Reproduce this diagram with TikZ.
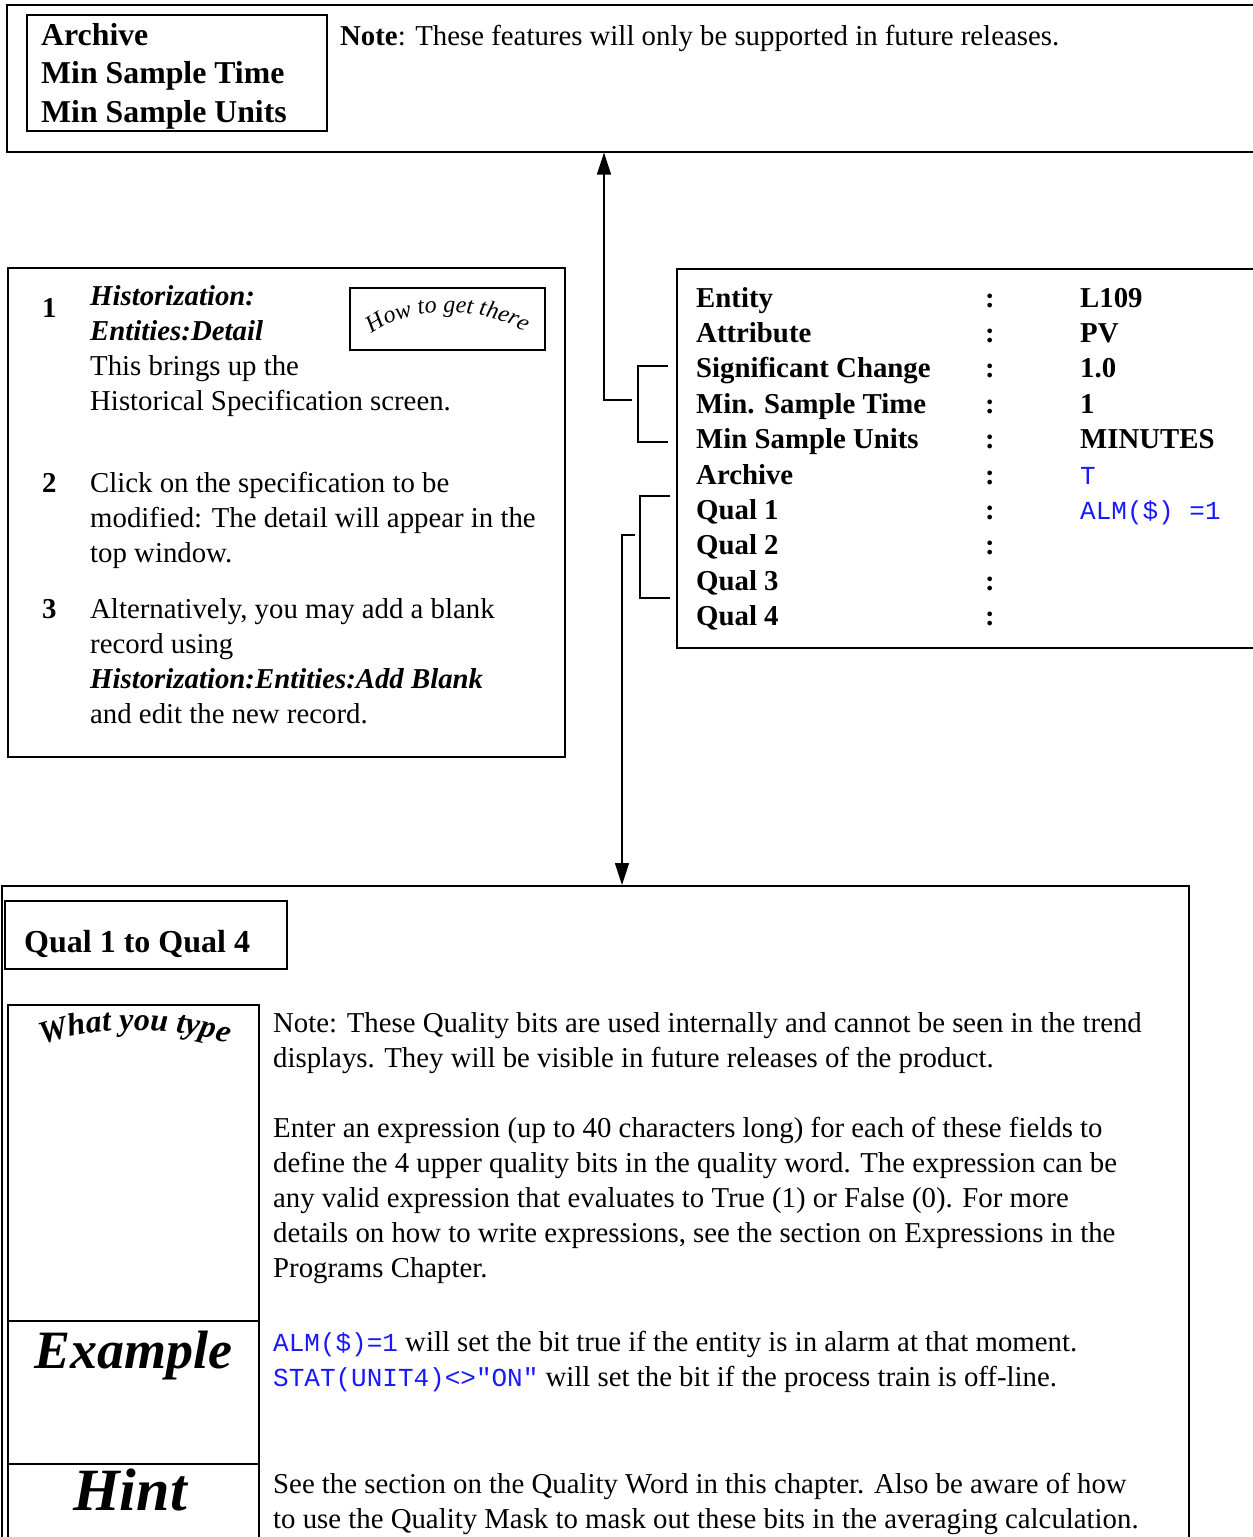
\documentclass[tikz,border=0pt]{standalone}
\usepackage{fontspec}
\setmainfont{Liberation Serif}
\setmonofont{Liberation Mono}
\usetikzlibrary{arrows.meta,decorations.text}
\definecolor{codeblue}{RGB}{25,25,255}

% multi-line nodes are anchored at the baseline of their last line
\tikzset{
  box/.style={draw=black, line width=1.6pt, inner sep=0pt, anchor=north west},
  txt/.style={anchor=base west, inner sep=0pt, align=left, font=\fontsize{28.8}{35}\selectfont},
  lbl/.style={txt, font=\fontsize{28.8}{35.4}\selectfont\bfseries},
  bigbold/.style={txt, font=\fontsize{31.8}{38.5}\selectfont\bfseries},
  num/.style={txt, font=\fontsize{28.8}{35}\selectfont\bfseries},
  conn/.style={line width=1.5pt},
  arr/.style={conn, -{Triangle[length=22pt,width=14pt]}},
  hand/.style={inner sep=0pt, font=\fontsize{54}{54}\selectfont\bfseries\itshape}
}
\newcommand\codetxt[1]{{\fontsize{26}{35}\selectfont\mdseries\ttfamily\color{codeblue}#1}}

\begin{document}
\begin{tikzpicture}[x=1pt,y=-1pt]
\useasboundingbox (0,0) rectangle (1253,1537);
\begin{scope}
\clip (0,0) rectangle (1253,1537);

% ---- top box: fields supported later
\node[box, minimum width=1270pt, minimum height=147pt] (topbox) at (6,4) {};
\node[box, minimum width=300pt, minimum height=116pt] (archbox) at (26,14) {};
\node[bigbold] (archtxt) at (41,122) {Archive\\Min Sample Time\\Min Sample Units};
\node[txt] (topnote) at (340,45) {\textbf{Note}: These features will only be supported in future releases.};

% ---- left box: how to get there
\node[box, minimum width=557pt, minimum height=489pt] (howbox) at (7,267) {};
\node[box, minimum width=195pt, minimum height=62pt] (howtag) at (349,287) {};
\path[decorate, decoration={text along path, text align=center,
   text={|\fontsize{24}{24}\selectfont\itshape|How to get there}}]
   (364,341) .. controls (400,303) and (494,303) .. (532,339);
\node[num] (n1) at (42,317) {1};
\node[txt] (step1) at (90,410) {\textbf{\textit{Historization:}}\\\textbf{\textit{Entities:Detail}}\\This brings up the\\Historical Specification screen.};
\node[num] (n2) at (42,492) {2};
\node[txt] (step2) at (90,562) {Click on the specification to be\\modified: The detail will appear in the\\top window.};
\node[num] (n3) at (42,618) {3};
\node[txt] (step3) at (90,723) {Alternatively, you may add a blank\\record using\\\textbf{\textit{Historization:Entities:Add Blank}}\\and edit the new record.};

% ---- right box: the detail record
\node[box, minimum width=600pt, minimum height=379pt] (spec) at (676,268) {};
\node[lbl] (fields) at (696,625.6) {Entity\\Attribute\\Significant Change\\Min. Sample Time\\Min Sample Units\\Archive\\Qual 1\\Qual 2\\Qual 3\\Qual 4};
\node[lbl] (colons) at (985,625.6) {:\\:\\:\\:\\:\\:\\:\\:\\:\\:};
\node[lbl] (values) at (1080,519.4) {L109\\PV\\1.0\\1\\MINUTES\\\codetxt{T}\\\codetxt{ALM(\$)~=1}};

% ---- brackets and connectors
\coordinate (b1t) at (668,366);
\coordinate (b1c) at (638,366);
\coordinate (b1d) at (638,442);
\coordinate (b1b) at (668,442);
\draw[conn] (b1t) -- (b1c) -- (b1d) -- (b1b);
\coordinate (b1) at (632,400);
\coordinate (upx) at (604,400);
\draw[arr] (b1) -- (upx) -- (upx |- topbox.south);

\coordinate (b2t) at (670,496);
\coordinate (b2c) at (640,496);
\coordinate (b2d) at (640,598);
\coordinate (b2b) at (670,598);
\draw[conn] (b2t) -- (b2c) -- (b2d) -- (b2b);
\coordinate (b2) at (635,535);
\coordinate (dnx) at (622,535);

% ---- bottom box: Qual 1 to Qual 4
\node[box, minimum width=1187pt, minimum height=700pt] (qualbox) at (1,885) {};
\draw[arr] (b2) -- (dnx) -- (dnx |- qualbox.north);
\node[box, minimum width=282pt, minimum height=68pt] (qualtitle) at (4,900) {};
\node[txt, font=\fontsize{32}{38}\selectfont\bfseries] (qualtxt) at (24,952) {Qual 1 to Qual 4};

\node[box, minimum width=251pt, minimum height=600pt] (col) at (7,1004) {};
\coordinate (d1) at (7,1321);
\coordinate (d2) at (7,1464);
\draw[line width=1.6pt] (d1) -- (d1 -| col.east);
\draw[line width=1.6pt] (d2) -- (d2 -| col.east);

\path[decorate, decoration={text along path, text align=center,
   text={|\fontsize{32}{32}\selectfont\bfseries\itshape|What you type}}]
   (24,1053) .. controls (80,1023) and (190,1023) .. (246,1051);
\node[hand, anchor=base] (extag) at (133,1368) {Example};
\node[hand, font=\fontsize{60}{60}\selectfont\bfseries\itshape, anchor=base] (hinttag) at (130,1510) {Hint};

\node[txt] (qnote) at (273,1067) {Note: These Quality bits are used internally and cannot be seen in the trend\\displays. They will be visible in future releases of the product.};
\node[txt] (qdesc) at (273,1277) {Enter an expression (up to 40 characters long) for each of these fields to\\define the 4 upper quality bits in the quality word. The expression can be\\any valid expression that evaluates to True (1) or False (0). For more\\details on how to write expressions, see the section on Expressions in the\\Programs Chapter.};
\node[txt] (qex) at (273,1386) {\codetxt{ALM(\$)=1} will set the bit true if the entity is in alarm at that moment.\\\codetxt{STAT(UNIT4)<>"ON"} will set the bit if the process train is off-line.};
\node[txt] (qhint) at (273,1528) {See the section on the Quality Word in this chapter. Also be aware of how\\to use the Quality Mask to mask out these bits in the averaging calculation.};
\end{scope}
\end{tikzpicture}
\end{document}
